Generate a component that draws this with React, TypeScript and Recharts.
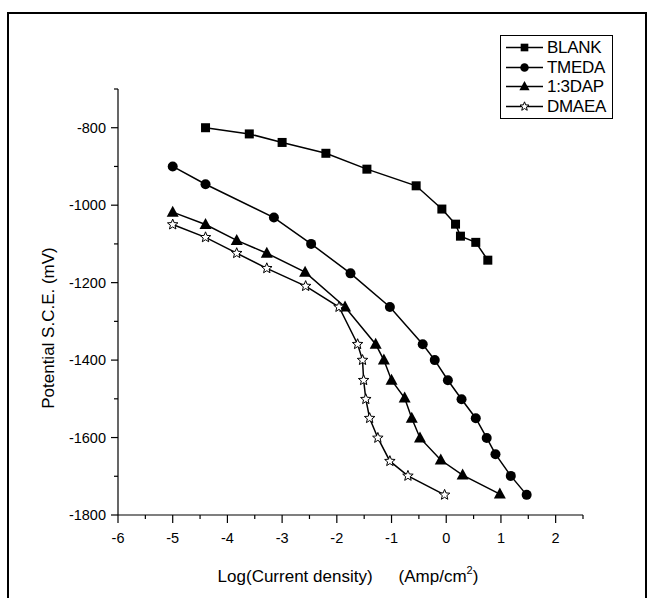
import React from 'react';
import { LineChart, Line, XAxis, YAxis, Legend } from 'recharts';

// (log current density vs potential, mV)
const blankX = [-4.4, -3.6, -3.0, -2.2, -1.45, -0.55, -0.08, 0.17, 0.26, 0.54, 0.76];
const blankY = [-800, -816, -838, -866, -907, -950, -1010, -1049, -1080, -1096, -1142];

const tmedaX = [-5.0, -4.4, -3.15, -2.47, -1.75, -1.03, -0.43, -0.21, 0.03, 0.28, 0.54, 0.74, 0.9, 1.18, 1.47];
const tmedaY = [-900, -946, -1032, -1100, -1176, -1263, -1359, -1400, -1452, -1501, -1550, -1601, -1643, -1699, -1748];

const dapX = [-5.0, -4.4, -3.83, -3.28, -2.58, -1.85, -1.29, -1.14, -1.0, -0.76, -0.63, -0.48, -0.1, 0.3, 0.98];
const dapY = [-1018, -1050, -1091, -1124, -1173, -1263, -1359, -1400, -1452, -1498, -1550, -1601, -1658, -1697, -1746];

const dmaeaX = [-5.0, -4.4, -3.83, -3.28, -2.57, -1.96, -1.62, -1.53, -1.51, -1.47, -1.4, -1.25, -1.03, -0.7, -0.03];
const dmaeaY = [-1050, -1083, -1124, -1163, -1209, -1263, -1359, -1400, -1452, -1501, -1550, -1601, -1661, -1699, -1748];

const xTicks = [-6, -5.5, -5, -4.5, -4, -3.5, -3, -2.5, -2, -1.5, -1, -0.5, 0, 0.5, 1, 1.5, 2, 2.5];
const xLabels = [-6, -5, -4, -3, -2, -1, 0, 1, 2];
const yTicks = [-1800, -1700, -1600, -1500, -1400, -1300, -1200, -1100, -1000, -900, -800, -700];
const yLabels = [-1800, -1600, -1400, -1200, -1000, -800];

const FONT = '"Liberation Sans", Arial, sans-serif';

type Shape = 'square' | 'circle' | 'triangle' | 'star';

const series: { name: string; xs: number[]; ys: number[]; shape: Shape }[] = [
  { name: 'BLANK', xs: blankX, ys: blankY, shape: 'square' },
  { name: 'TMEDA', xs: tmedaX, ys: tmedaY, shape: 'circle' },
  { name: '1:3DAP', xs: dapX, ys: dapY, shape: 'triangle' },
  { name: 'DMAEA', xs: dmaeaX, ys: dmaeaY, shape: 'star' },
];

function starPoints(cx: number, cy: number, ro: number, ri: number) {
  const pts: string[] = [];
  for (let i = 0; i < 10; i++) {
    const r = i % 2 === 0 ? ro : ri;
    const a = -Math.PI / 2 + (i * Math.PI) / 5;
    pts.push(`${cx + r * Math.cos(a)},${cy + r * Math.sin(a)}`);
  }
  return pts.join(' ');
}

function Marker({ cx, cy, shape, scale = 1 }: { cx: number; cy: number; shape: Shape; scale?: number }) {
  if (shape === 'square') {
    const s = 4.5 * scale;
    return <rect x={cx - s} y={cy - s} width={s * 2} height={s * 2} fill="#000" />;
  }
  if (shape === 'circle') return <circle cx={cx} cy={cy} r={5 * scale} fill="#000" />;
  if (shape === 'triangle') {
    const s = scale;
    return (
      <polygon
        points={`${cx},${cy - 6.5 * s} ${cx + 6 * s},${cy + 4.5 * s} ${cx - 6 * s},${cy + 4.5 * s}`}
        fill="#000"
      />
    );
  }
  return <polygon points={starPoints(cx, cy, 5.5 * scale, 2.4 * scale)} fill="#fff" stroke="#000" strokeWidth={1} />;
}

function XTick(props: any) {
  const { x, y, payload } = props;
  const major = xLabels.includes(payload.value);
  return (
    <g>
      <line x1={x} x2={x} y1={y} y2={y + (major ? 8 : 4)} stroke="#000" strokeWidth={1.2} />
      {major && (
        <text x={x} y={y + 28} textAnchor="middle" fontFamily={FONT} fontSize={14.5} fill="#000">
          {payload.value}
        </text>
      )}
    </g>
  );
}

function YTick(props: any) {
  const { x, y, payload } = props;
  const major = yLabels.includes(payload.value);
  return (
    <g>
      <line x1={x} x2={x - (major ? 7 : 4)} y1={y} y2={y} stroke="#000" strokeWidth={1.2} />
      {major && (
        <text x={x - 12} y={y + 5} textAnchor="end" fontFamily={FONT} fontSize={14.5} fill="#000">
          {payload.value}
        </text>
      )}
    </g>
  );
}

function LegendBox() {
  return (
    <div
      style={{
        width: 111,
        border: '1px solid #000',
        background: '#fff',
        padding: '2px 0',
        fontFamily: FONT,
        fontSize: 17,
        lineHeight: '19.5px',
        letterSpacing: -0.3,
      }}
    >
      {series.map((s) => (
        <div key={s.name} style={{ display: 'flex', alignItems: 'center', height: 19.5 }}>
          <svg width={44} height={19} style={{ flex: 'none' }}>
            <line x1={5} x2={42} y1={9.5} y2={9.5} stroke="#000" strokeWidth={1.5} />
            <Marker cx={23.5} cy={9.5} shape={s.shape} scale={0.85} />
          </svg>
          <span style={{ marginLeft: 2 }}>{s.name}</span>
        </div>
      ))}
    </div>
  );
}

const XTitle = () => (
  <text x={348} y={582} textAnchor="middle" fontFamily={FONT} fontSize={17} fill="#000">
    Log(Current density)
    <tspan dx={26}>(Amp/cm</tspan>
    <tspan dy={-8} fontSize={11}>2</tspan>
    <tspan dy={8}>)</tspan>
  </text>
);

const YTitle = () => (
  <text
    x={54}
    y={328}
    transform="rotate(-90 54 328)"
    textAnchor="middle"
    fontFamily={FONT}
    fontSize={17}
    fill="#000"
  >
    Potential S.C.E. (mV)
  </text>
);

export default function App() {
  return (
    <div style={{ position: 'absolute', left: 0, top: 0, width: 654, height: 598, background: '#fff', overflow: 'hidden' }}>
      <div
        style={{
          position: 'absolute',
          left: 7,
          top: 12,
          width: 640,
          height: 620,
          borderTop: '2px solid #000',
          borderLeft: '2px solid #000',
          borderRight: '2px solid #000',
          boxSizing: 'border-box',
        }}
      />
      <LineChart width={654} height={598} margin={{ top: 89, right: 71, bottom: 33, left: 48 }}>
        <XAxis
          type="number"
          dataKey="x"
          domain={[-6, 2.5]}
          ticks={xTicks}
          interval={0}
          height={50}
          stroke="#000"
          strokeWidth={1.2}
          tickLine={false}
          tickSize={0}
          tickMargin={0}
          tick={<XTick />}
          allowDataOverflow
          label={() => <XTitle />}
        />
        <YAxis
          type="number"
          domain={[-1800, -700]}
          ticks={yTicks}
          interval={0}
          width={70}
          stroke="#000"
          strokeWidth={1.2}
          tickLine={false}
          tickSize={0}
          tickMargin={0}
          tick={<YTick />}
          allowDataOverflow
          label={() => <YTitle />}
        />
        <Legend
          layout="vertical"
          align="center"
          verticalAlign="middle"
          wrapperStyle={{ position: 'absolute', left: 500, top: 35, width: 113 }}
          content={() => <LegendBox />}
        />
        {series.map((s) => (
          <Line
            key={s.name}
            name={s.name}
            data={s.xs.map((x, i) => ({ x, y: s.ys[i] }))}
            dataKey="y"
            stroke="#000"
            strokeWidth={1.5}
            isAnimationActive={false}
            dot={(p: any) => <Marker key={`${s.name}-${p.index}`} cx={p.cx} cy={p.cy} shape={s.shape} />}
          />
        ))}
      </LineChart>
    </div>
  );
}
